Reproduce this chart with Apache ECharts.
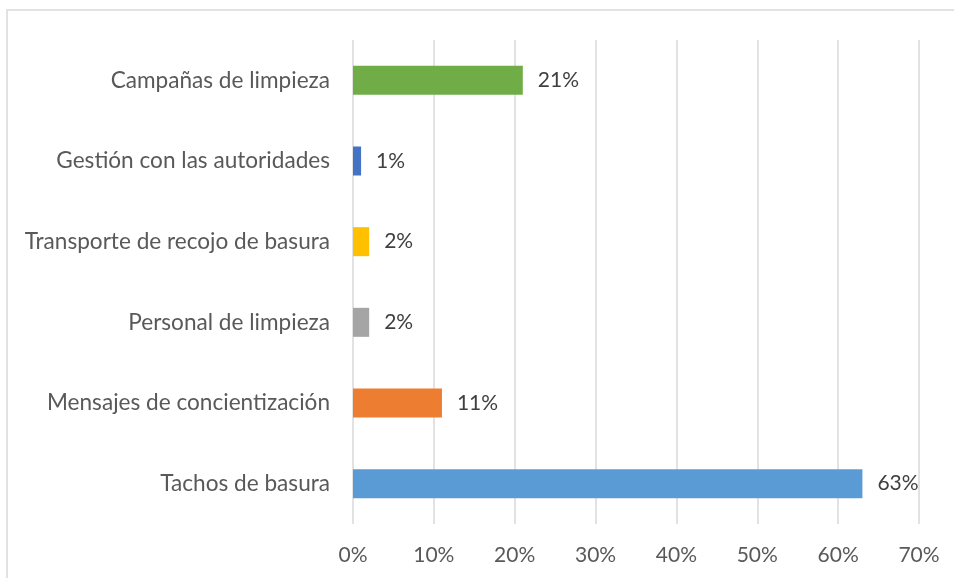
<!DOCTYPE html>
<html>
<head>
<meta charset="utf-8">
<script src="https://cdn.jsdelivr.net/npm/echarts@6/dist/echarts.min.js"></script>
<style>
    html, body { margin: 0; padding: 0; background: #fff; }
    #chart { width: 954px; height: 578px; }
</style>
</head>
<body>
<div id="chart"></div>
<script>
    // categories listed bottom to top (category axis starts at the bottom)
    var categories = ["Tachos de basura", "Mensajes de concientización", "Personal de limpieza",
        "Transporte de recojo de basura", "Gestión con las autoridades", "Campañas de limpieza"];
    var values = [63, 11, 2, 2, 1, 21];
    var barColors = ["#5B9BD5", "#ED7D31", "#A5A5A5", "#FFC000", "#4472C4", "#70AD47"];
    var xTicks = [0, 10, 20, 30, 40, 50, 60, 70];

    var chart = echarts.init(document.getElementById("chart"));
    var font = "Lato, 'Open Sans', sans-serif";
    var option = {
        animation: false,
        graphic: [{
            type: 'polyline',
            shape: { points: [[7, 578], [7, 10], [954, 10]] },
            style: { stroke: '#d9d9d9', lineWidth: 1.5, fill: null }
        }],
        grid: { left: 353, right: 35, top: 40, bottom: 54 },
        xAxis: {
            type: 'value',
            min: xTicks[0],
            max: xTicks[xTicks.length - 1],
            interval: 10,
            axisLine: { show: false },
            axisTick: { show: false },
            splitLine: { show: true, lineStyle: { color: '#d9d9d9', width: 1.5 } },
            axisLabel: {
                color: '#595959',
                fontSize: 21,
                fontFamily: font,
                margin: 21,
                formatter: function (v) { return v + '%'; }
            }
        },
        yAxis: {
            type: 'category',
            data: categories,
            axisLine: { show: false },
            axisTick: { show: false },
            axisLabel: {
                color: '#595959',
                fontSize: 22.6,
                fontFamily: font,
                margin: 23
            }
        },
        series: [{
            type: 'bar',
            barWidth: 29,
            data: values.map(function (v, i) {
                return { value: v, itemStyle: { color: barColors[i] } };
            }),
            label: {
                show: true,
                position: 'right',
                distance: 15,
                color: '#404040',
                fontSize: 21,
                fontFamily: font,
                formatter: function (p) { return p.value + '%'; }
            }
        }]
    };
    chart.setOption(option);
</script>
</body>
</html>
